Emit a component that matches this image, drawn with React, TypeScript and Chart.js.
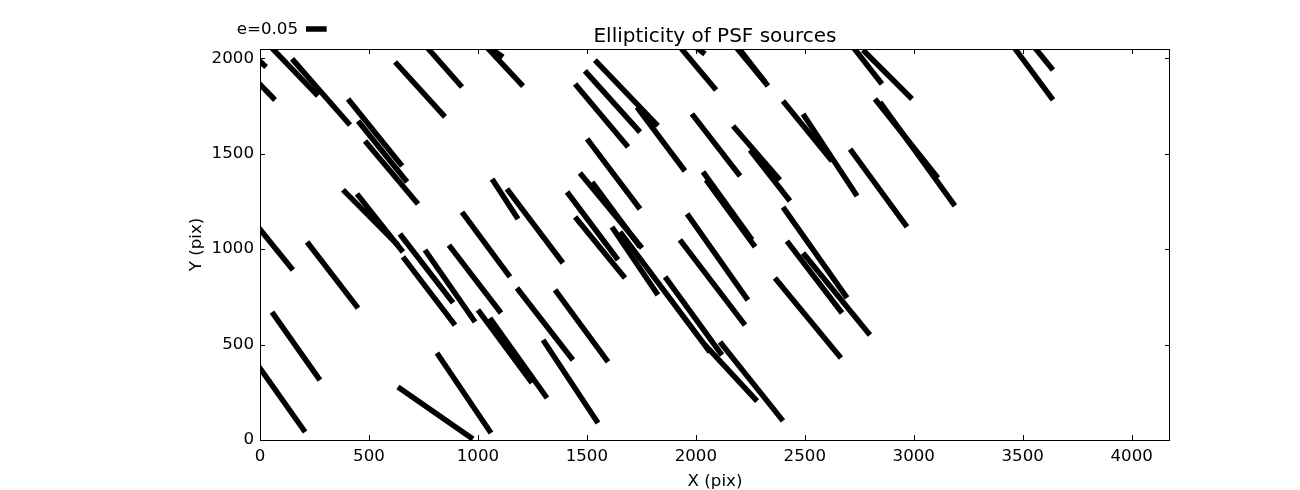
import React, { useEffect, useRef } from "react";
import { Chart, registerables } from "chart.js";

Chart.register(...registerables);

// Whisker start / end points (pixel units of the CCD)
const xStart = [-46, -46, 37, 147, 620, 753, 404, 450, 482, 381, 445, 642, 927, -46, 216, 656, 757, 867, 1000, 1055, 55, -46, 633, 812, 1010, 1028, 1537, 1491, 1446, 1730, 1501, 1065, 1133, 1468, 1524, 1409, 1446, 1615, 1652, 1859, 2042, 2111, 1927, 1960, 1179, 1354, 1299, 1927, 2005, 1982, 2033, 2047, 2400, 2418, 2492, 2363, 2157, 2189, 2400, 2492, 2171, 2249, 2708, 2822, 2845, 2721, 2767, 3442, 3534];
const yStart = [2032, 1917, 2074, 1996, 1980, 2074, 1786, 1671, 1566, 1310, 1289, 1079, 1194, 1168, 1037, 959, 995, 1021, 681, 639, 670, 450, 278, 456, 2095, 2074, 1990, 1933, 1865, 1744, 1577, 1367, 1315, 1399, 1351, 1299, 1168, 1116, 1090, 854, 498, 513, 1048, 1184, 796, 786, 524, 2059, 2053, 1708, 1404, 1362, 1220, 1042, 979, 849, 2095, 2064, 1776, 1708, 1645, 1519, 1524, 1786, 1770, 2059, 2043, 2085, 2085];
const xEnd = [28, 69, 266, 413, 849, 927, 652, 675, 725, 633, 656, 886, 1147, 151, 450, 895, 987, 1106, 1248, 1317, 275, 207, 977, 1060, 1207, 1115, 1826, 1744, 1689, 1950, 1744, 1184, 1390, 1753, 1744, 1643, 1675, 1826, 2065, 2120, 2281, 2400, 2226, 2239, 1436, 1597, 1551, 2093, 2042, 2203, 2258, 2272, 2694, 2671, 2799, 2666, 2317, 2331, 2625, 2740, 2386, 2432, 2969, 3111, 3189, 2854, 2992, 3639, 3639];
const yEnd = [1954, 1781, 1802, 1650, 1692, 1849, 1435, 1351, 1236, 1021, 985, 718, 854, 890, 691, 602, 618, 665, 299, 220, 314, 42, 5, 37, 1854, 2006, 1645, 1613, 1535, 1409, 1210, 1158, 927, 1006, 1011, 943, 849, 760, 461, 445, 204, 100, 602, 733, 419, 409, 89, 1833, 2022, 1383, 1048, 1011, 744, 665, 550, 430, 1875, 1854, 1461, 1278, 1362, 1252, 1116, 1372, 1226, 1865, 1786, 1781, 1938];

const xTickValues = [0, 500, 1000, 1500, 2000, 2500, 3000, 3500, 4000];
const yTickValues = [0, 500, 1000, 1500, 2000];
const xMax = 4176;
const yMax = 2048;

const titleText = "Ellipticity of PSF sources";
const xTitle = "X (pix)";
const yTitle = "Y (pix)";
const keyLabel = "e=0.05";
const keyLength = 95; // data units along x

const FONT = "'DejaVu Sans', sans-serif";
const TICK_SIZE = 16.67;

export default function App() {
  const ref = useRef<HTMLCanvasElement | null>(null);

  useEffect(() => {
    const canvas = ref.current;
    if (!canvas) return;

    const datasets = xStart.map((x0, i) => ({
      data: [
        { x: x0, y: yStart[i] },
        { x: xEnd[i], y: yEnd[i] },
      ],
      showLine: true,
      borderColor: "#000000",
      backgroundColor: "#000000",
      borderWidth: 5.5,
      borderCapStyle: "butt",
      pointRadius: 0,
      pointHoverRadius: 0,
      tension: 0,
      clip: 0,
    }));

    const framePlugin = {
      id: "frameAndKey",
      afterDatasetsDraw(chart: any) {
        const { ctx, chartArea: a, scales } = chart;
        ctx.save();
        ctx.strokeStyle = "#000000";
        ctx.lineWidth = 1;
        ctx.strokeRect(a.left + 0.5, a.top + 0.5, a.right - a.left - 1, a.bottom - a.top);
        const tl = 5;
        ctx.beginPath();
        for (const t of scales.x.ticks) {
          const px = Math.round(scales.x.getPixelForValue(t.value)) + 0.5;
          ctx.moveTo(px, a.bottom);
          ctx.lineTo(px, a.bottom - tl);
          ctx.moveTo(px, a.top);
          ctx.lineTo(px, a.top + tl);
        }
        for (const t of scales.y.ticks) {
          const py = Math.round(scales.y.getPixelForValue(t.value)) + 0.5;
          ctx.moveTo(a.left, py);
          ctx.lineTo(a.left + tl, py);
          ctx.moveTo(a.right, py);
          ctx.lineTo(a.right - tl, py);
        }
        ctx.stroke();

        // quiver key
        const keyPx = scales.x.getPixelForValue(keyLength) - scales.x.getPixelForValue(0);
        const kx = 306;
        const ky = 29;
        ctx.lineWidth = 5.5;
        ctx.lineCap = "butt";
        ctx.beginPath();
        ctx.moveTo(kx, ky);
        ctx.lineTo(kx + keyPx, ky);
        ctx.stroke();
        ctx.fillStyle = "#000000";
        ctx.font = `${TICK_SIZE}px ${FONT}`;
        ctx.textAlign = "right";
        ctx.textBaseline = "middle";
        ctx.fillText(keyLabel, 298, ky + 1);
        ctx.restore();
      },
    };

    const chart = new Chart(canvas, {
      type: "scatter",
      data: { datasets: datasets as any },
      options: {
        animation: false,
        responsive: false,
        events: [],
        layout: { padding: { left: 187, right: 130, top: 24, bottom: 0 } },
        plugins: {
          legend: { display: false },
          tooltip: { enabled: false },
          title: {
            display: true,
            text: titleText,
            color: "#000000",
            fullSize: false,
            font: { family: FONT, size: 20, weight: "normal" },
            padding: { top: 1, bottom: 0 },
          },
        },
        scales: {
          x: {
            type: "linear",
            min: 0,
            max: xMax,
            afterFit: (s: any) => {
              s.height = 50;
            },
            afterBuildTicks: (s: any) => {
              s.ticks = xTickValues.map((value) => ({ value }));
            },
            grid: { display: false, drawTicks: false },
            border: { display: false },
            ticks: {
              color: "#000000",
              font: { family: FONT, size: TICK_SIZE },
              padding: 7,
              maxRotation: 0,
              autoSkip: false,
              callback: (v: any) => String(v),
            },
            title: {
              display: true,
              text: xTitle,
              color: "#000000",
              font: { family: FONT, size: TICK_SIZE },
              padding: { top: 0, bottom: -2 },
            },
          },
          y: {
            type: "linear",
            min: 0,
            max: yMax,
            afterFit: (s: any) => {
              s.width = 73;
            },
            afterBuildTicks: (s: any) => {
              s.ticks = yTickValues.map((value) => ({ value }));
            },
            grid: { display: false, drawTicks: false },
            border: { display: false },
            ticks: {
              color: "#000000",
              font: { family: FONT, size: TICK_SIZE },
              padding: 6,
              autoSkip: false,
              callback: (v: any) => String(v),
            },
            title: {
              display: true,
              text: yTitle,
              color: "#000000",
              font: { family: FONT, size: TICK_SIZE },
              padding: { top: 0, bottom: 0 },
            },
          },
        },
      },
      plugins: [framePlugin],
    } as any);

    return () => chart.destroy();
  }, []);

  return (
    <div style={{ position: "fixed", left: 0, top: 0, width: 1300, height: 490, background: "#ffffff" }}>
      <canvas ref={ref} width={1300} height={490} style={{ width: 1300, height: 490, display: "block" }} />
    </div>
  );
}
